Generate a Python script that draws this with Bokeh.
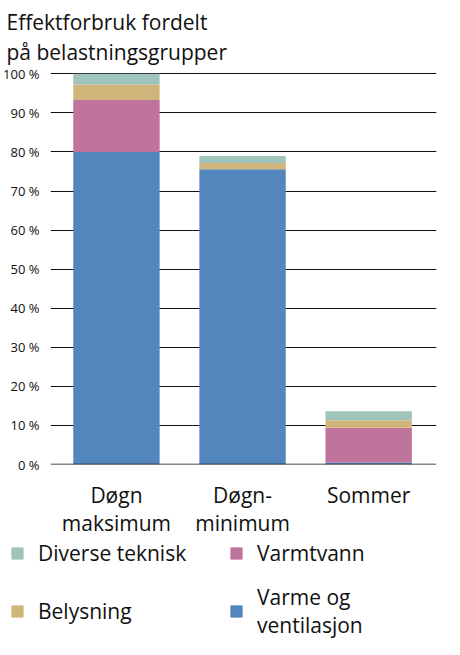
from bokeh.plotting import figure
from bokeh.layouts import column, row
from bokeh.models import ColumnDataSource, FixedTicker, Legend, LegendItem, Title
from bokeh.embed import file_html
from bokeh.resources import INLINE

groups = ["Døgn\nmaksimum", "Døgn-\nminimum", "Sommer"]
varme = [80.0, 75.6, 0.5]
varmtvann = [13.3, 0.0, 8.9]
belysning = [4.0, 1.6, 1.9]
diverse = [2.7, 1.8, 2.3]

series = ["varme", "varmtvann", "belysning", "diverse"]
names = ["Varme og\nventilasjon", "Varmtvann", "Belysning", "Diverse teknisk"]
colors = ["#5386bd", "#c0739b", "#cfb57a", "#9fc4bb"]

src = ColumnDataSource(dict(x=[0, 1, 2], varme=varme, varmtvann=varmtvann,
                            belysning=belysning, diverse=diverse))

FONT = "Open Sans"
p = figure(width=444, height=539, x_range=(-0.523, 2.538), y_range=(0, 100.6),
           output_backend="svg", toolbar_location=None,
           min_border_left=8, min_border_right=8, min_border_bottom=0)
p.title = Title(text="Effektforbruk fordelt\npå belastningsgrupper", text_font=FONT,
                text_font_size="21px", text_font_style="normal", text_color="#111111",
                offset=-44, text_line_height=1.1, standoff=10)
p.outline_line_color = None
p.xgrid.grid_line_color = None
p.ygrid.grid_line_color = "#111111"
p.ygrid.ticker = FixedTicker(ticks=list(range(10, 101, 10)))

rs = p.vbar_stack(series, x="x", width=0.685, source=src, color=colors,
                  line_color=None)
p.segment(x0=[-0.523], y0=[0], x1=[2.538], y1=[0], line_color="#111111", line_width=1.5)

p.yaxis.ticker = FixedTicker(ticks=list(range(0, 101, 10)))
p.yaxis.major_label_overrides = {i: f"{i} %" for i in range(0, 101, 10)}
p.yaxis.axis_line_color = None
p.yaxis.major_tick_line_color = None
p.yaxis.minor_tick_line_color = None
p.yaxis.major_label_text_font = FONT
p.yaxis.major_label_text_font_size = "13px"
p.yaxis.major_label_text_color = "#111111"

p.xaxis.ticker = FixedTicker(ticks=[0, 1, 2])
p.xaxis.major_label_overrides = {i: g for i, g in enumerate(groups)}
p.xaxis.axis_line_color = None
p.xaxis.major_tick_line_color = None
p.xaxis.minor_tick_line_color = None
p.xaxis.major_label_text_font = FONT
p.xaxis.major_label_text_font_size = "21px"
p.xaxis.major_label_text_color = "#111111"
p.xaxis.major_label_text_line_height = 1.0
p.xaxis.major_label_standoff = 10

# legend in its own figure
q = figure(width=444, height=100, output_backend="svg", toolbar_location=None,
           x_range=(0, 1), y_range=(0, 1), min_border=0,
           x_axis_location=None, y_axis_location=None)
q.grid.visible = False
q.outline_line_color = None
dummies = [q.vbar(x=[5], top=[5], width=0.1, color=c) for c in colors]
order = [3, 2, 1, 0]
legend = Legend(items=[LegendItem(label=names[i], renderers=[dummies[i]]) for i in order],
                nrows=2, label_text_font=FONT, label_text_font_size="21px",
                label_text_color="#111111", border_line_color=None,
                background_fill_alpha=0, location=(10, 0),
                glyph_width=14, glyph_height=14, spacing=16, margin=0,
                padding=2, label_standoff=14, label_width=175)
q.add_layout(legend, "center")

open("out.html", "w").write(file_html(column(p, row(q), spacing=0), INLINE))
